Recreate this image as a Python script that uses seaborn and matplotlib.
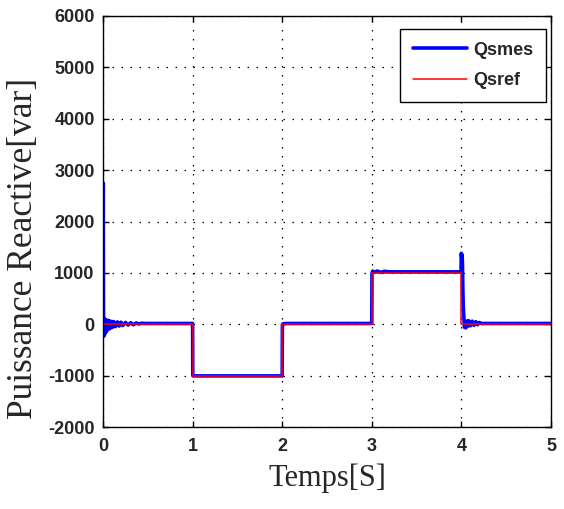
import matplotlib
matplotlib.use("Agg")
import matplotlib.pyplot as plt
import seaborn as sns
import pandas as pd

# Reference reactive power: step profile (var)
t_ref = [0.0, 1.0, 1.0, 2.0, 2.0, 3.0, 3.0, 4.0, 4.0, 5.0]
q_ref = [0, 0, -1000, -1000, 0, 0, 1000, 1000, 0, 0]

# Measured reactive power (var)
t_mes = [0.000, 0.003, 0.006, 0.009, 0.012, 0.016, 0.020, 0.025, 0.030, 0.035,
         0.040, 0.045, 0.050, 0.060, 0.070, 0.080, 0.090, 0.100, 0.110, 0.120,
         0.140, 0.160, 0.180, 0.200, 0.220, 0.250, 0.280, 0.310, 0.340, 0.370,
         0.400, 0.430, 0.460, 1.000, 1.002, 1.004, 2.000, 2.002, 2.010, 2.050,
         3.000, 3.002, 3.010, 3.030, 3.060, 3.100, 3.140, 3.200, 3.996, 3.999,
         4.003, 4.008, 4.012, 4.016, 4.020, 4.025, 4.030, 4.035, 4.040, 4.050,
         4.060, 4.070, 4.080, 4.100, 4.120, 4.140, 4.160, 4.180, 4.200, 4.220,
         4.250, 5.000]
q_mes = [0, 2750, -150, 60, -230, 110, -190, 90, -160, 80,
         -130, 70, -110, 75, -90, 60, -70, 55, -55, 50,
         -45, 45, -35, 40, -25, 35, -15, 30, -10, 25,
         5, 20, 15, 15, -990, -1005, -1005, -10, 10, 15,
         15, 985, 1035, 1010, 1035, 1010, 1030, 1020, 1020, 1380,
         1300, 1350, 1150, 700, 400, 200, 80, -60, 40, -70,
         60, -40, 70, -30, 60, -20, 50, -10, 35, 15,
         15, 15]

x_ticks = [0, 1, 2, 3, 4, 5]
y_ticks = [-2000, -1000, 0, 1000, 2000, 3000, 4000, 5000, 6000]

mes = pd.DataFrame({"t": t_mes, "q": q_mes})
ref = pd.DataFrame({"t": t_ref, "q": q_ref})

sns.set_style("white")
plt.rcParams["font.family"] = ["Liberation Sans", "DejaVu Sans"]

fig = plt.figure(figsize=(5.64, 5.09), dpi=100)
ax = fig.add_axes([103 / 564, 82 / 509, 448 / 564, 411 / 509])

sns.lineplot(data=mes, x="t", y="q", ax=ax, color="#0000ff", linewidth=2.6,
             estimator=None, sort=False, label="Qsmes")
sns.lineplot(data=ref, x="t", y="q", ax=ax, color="#ff0000", linewidth=1.1,
             estimator=None, sort=False, label="Qsref")

ax.set_xlim(0, 5)
ax.set_ylim(-2000, 6000)
ax.set_xticks(x_ticks)
ax.set_yticks(y_ticks)
ax.set_xticklabels([str(v) for v in x_ticks])
ax.set_yticklabels([str(v) for v in y_ticks])

ax.grid(True, color="black", linestyle=(0, (1.2, 6)), linewidth=0.9)
for side in ax.spines.values():
    side.set_color("black")
    side.set_linewidth(1.0)
    side.set_visible(True)

ax.tick_params(direction="in", length=4, width=1, color="black",
               top=True, right=True, bottom=True, left=True)
ax.tick_params(axis="x", pad=8)
ax.tick_params(axis="y", pad=6)
for lab in ax.get_xticklabels() + ax.get_yticklabels():
    lab.set_fontfamily("Liberation Sans")
    lab.set_fontweight("bold")
    lab.set_fontsize(13)

ax.set_xlabel("Temps[S]", family="Liberation Serif", fontsize=22, labelpad=6)
ax.set_ylabel("Puissance Reactive[var]", family="Liberation Serif", fontsize=25.5)
ax.yaxis.set_label_coords(-0.14, 0.435)

leg = ax.legend(loc="upper right", bbox_to_anchor=(0.989, 0.968),
                frameon=True, fancybox=False, shadow=False,
                prop={"family": "Liberation Sans", "weight": "bold", "size": 13},
                handlelength=3.0, borderaxespad=0.0, borderpad=0.7,
                labelspacing=0.75, handletextpad=0.35)
leg.get_frame().set_edgecolor("black")
leg.get_frame().set_linewidth(1.0)
leg.get_frame().set_facecolor("white")
leg.get_frame().set_alpha(1.0)

fig.savefig("out.png", dpi=100)
